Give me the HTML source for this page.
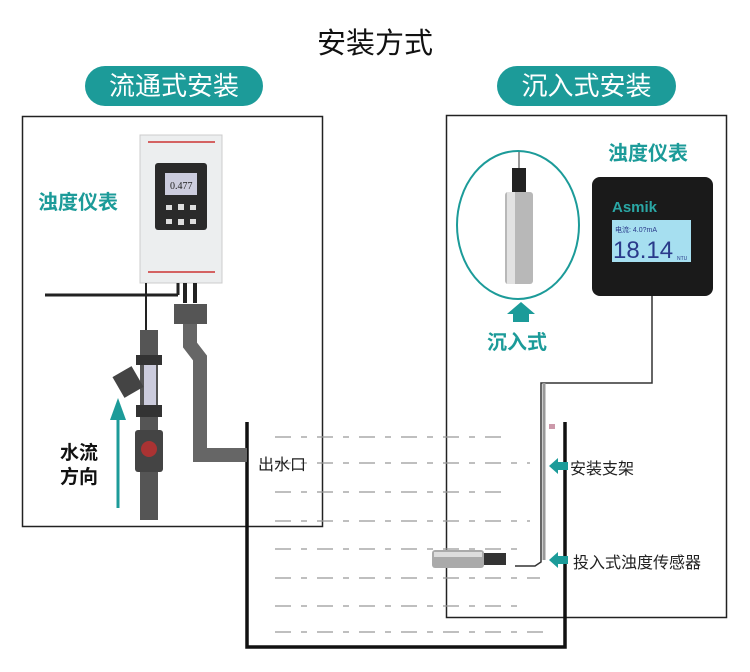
<!DOCTYPE html>
<html><head><meta charset="utf-8"><style>
body{margin:0;width:750px;height:672px;background:#fff;position:relative;overflow:hidden;font-family:"Liberation Sans","Noto Sans CJK SC",sans-serif}
.a{position:absolute;white-space:nowrap}
.pill{position:absolute;background:#1c9b99;color:#fff;border-radius:22px;font-size:26px;text-align:center;line-height:40px;height:40px}
.teal{color:#1c9b99;font-weight:bold}
</style></head><body>
<div class="a" style="left:0;width:750px;text-align:center;top:20px;font-size:29px;color:#111">安装方式</div>
<div class="pill" style="left:85px;top:66px;width:178px">流通式安装</div>
<div class="pill" style="left:497px;top:66px;width:179px">沉入式安装</div>
<svg class="a" style="left:0;top:0" width="750" height="672">
<rect x="22.5" y="116.5" width="300" height="410" fill="none" stroke="#222" stroke-width="1.5"/>
<rect x="446.5" y="115.5" width="280" height="502" fill="none" stroke="#222" stroke-width="1.5"/>
<g stroke="#999" stroke-width="1.2" stroke-dasharray="16 10 6 10">
<line x1="275" y1="437" x2="505" y2="437"/>
<line x1="275" y1="463" x2="530" y2="463"/>
<line x1="275" y1="492" x2="505" y2="492"/>
<line x1="275" y1="521" x2="530" y2="521"/>
<line x1="275" y1="549" x2="520" y2="549"/>
<line x1="275" y1="578" x2="540" y2="578"/>
<line x1="275" y1="606" x2="520" y2="606"/>
<line x1="275" y1="632" x2="545" y2="632"/>
</g>
<polyline points="247,422 247,647 565,647 565,422" fill="none" stroke="#111" stroke-width="3.5"/>
<!-- left device -->
<rect x="140" y="135" width="82" height="148" fill="#eceeef" stroke="#ccc"/>
<line x1="148" y1="142" x2="215" y2="142" stroke="#c33" stroke-width="1.5"/>
<line x1="148" y1="272" x2="215" y2="272" stroke="#c33" stroke-width="1.5"/>
<rect x="155" y="163" width="52" height="67" rx="3" fill="#2a2a2a"/>
<rect x="165" y="173" width="32" height="22" fill="#ccd"/>
<text x="170" y="189" font-size="10" fill="#222" font-family="Liberation Serif">0.477</text>
<g fill="#ddd"><rect x="166" y="205" width="6" height="5"/><rect x="178" y="204" width="6" height="6"/><rect x="190" y="205" width="6" height="5"/><rect x="166" y="219" width="6" height="5"/><rect x="178" y="219" width="6" height="6"/><rect x="190" y="219" width="6" height="5"/></g>
<line x1="45" y1="295" x2="178" y2="295" stroke="#222" stroke-width="3"/>
<line x1="178" y1="283" x2="178" y2="295" stroke="#222" stroke-width="3"/>
<line x1="146" y1="283" x2="146" y2="335" stroke="#222" stroke-width="2"/>
<rect x="183" y="283" width="4" height="20" fill="#222"/><rect x="193" y="283" width="4" height="20" fill="#222"/>
<rect x="174" y="304" width="33" height="20" fill="#555"/>
<path d="M190 324 L190 345 L200 358 L200 455 L247 455" fill="none" stroke="#666" stroke-width="14"/>
<rect x="140" y="330" width="18" height="190" fill="#555"/>
<rect x="136" y="355" width="26" height="10" fill="#333"/><rect x="136" y="405" width="26" height="12" fill="#333"/>
<rect x="144" y="365" width="12" height="40" fill="#ccd"/>
<rect x="117" y="370" width="22" height="24" fill="#444" transform="rotate(-30 128 382)"/>
<rect x="135" y="430" width="28" height="42" rx="3" fill="#444"/>
<circle cx="149" cy="449" r="8" fill="#a33"/>
<line x1="118" y1="508" x2="118" y2="408" stroke="#1c9b99" stroke-width="3"/>
<polygon points="110,420 118,398 126,420" fill="#1c9b99"/>
<!-- right -->
<ellipse cx="518" cy="225" rx="61" ry="74" fill="none" stroke="#1c9b99" stroke-width="2"/>
<line x1="519" y1="152" x2="519" y2="170" stroke="#333"/>
<rect x="512" y="168" width="14" height="28" fill="#222"/>
<rect x="505" y="192" width="28" height="92" rx="3" fill="#b8b8b8"/>
<rect x="507" y="192" width="8" height="92" fill="#e2e2e2"/>
<polygon points="513,322 513,314 507,314 521,302 535,314 529,314 529,322" fill="#1c9b99"/>
<rect x="592" y="177" width="121" height="119" rx="8" fill="#1a1a1a"/>
<rect x="612" y="220" width="79" height="42" fill="#a6dff0"/>
<text x="612" y="212" font-size="15" fill="#2aa7a5" font-weight="bold">Asmik</text>
<text x="615" y="232" font-size="7" fill="#2a3a8a">电流: 4.0?mA</text>
<text x="613" y="258" font-size="24" fill="#2a3a8a">18.14</text>
<text x="677" y="260" font-size="5" fill="#2a3a8a">NTU</text>
<polyline points="652,296 652,383 541,383 541,562 535,566 515,566" fill="none" stroke="#333" stroke-width="1.5"/>
<line x1="544" y1="383" x2="544" y2="560" stroke="#999" stroke-width="3"/>
<rect x="549" y="424" width="6" height="5" fill="#c9a"/>
<rect x="432" y="550" width="52" height="18" rx="3" fill="#aaa"/>
<rect x="434" y="552" width="48" height="5" fill="#ddd"/>
<rect x="484" y="553" width="22" height="12" fill="#333"/>
<polygon points="549,466 558,458 558,462 568,462 568,470 558,470 558,474" fill="#1c9b99"/>
<polygon points="549,560 558,552 558,556 568,556 568,564 558,564 558,568" fill="#1c9b99"/>
</svg>
<div class="a teal" style="left:38px;top:186px;font-size:20px">浊度仪表</div>
<div class="a" style="left:60px;top:442px;font-size:19px;font-weight:bold;line-height:24px;color:#111">水流<br>方向</div>
<div class="a" style="left:258px;top:451px;font-size:16px;color:#222">出水口</div>
<div class="a teal" style="left:608px;top:137px;font-size:20px">浊度仪表</div>
<div class="a teal" style="left:487px;top:326px;font-size:20px">沉入式</div>
<div class="a" style="left:570px;top:455px;font-size:16px;color:#222">安装支架</div>
<div class="a" style="left:573px;top:549px;font-size:16px;color:#222">投入式浊度传感器</div>
</body></html>
